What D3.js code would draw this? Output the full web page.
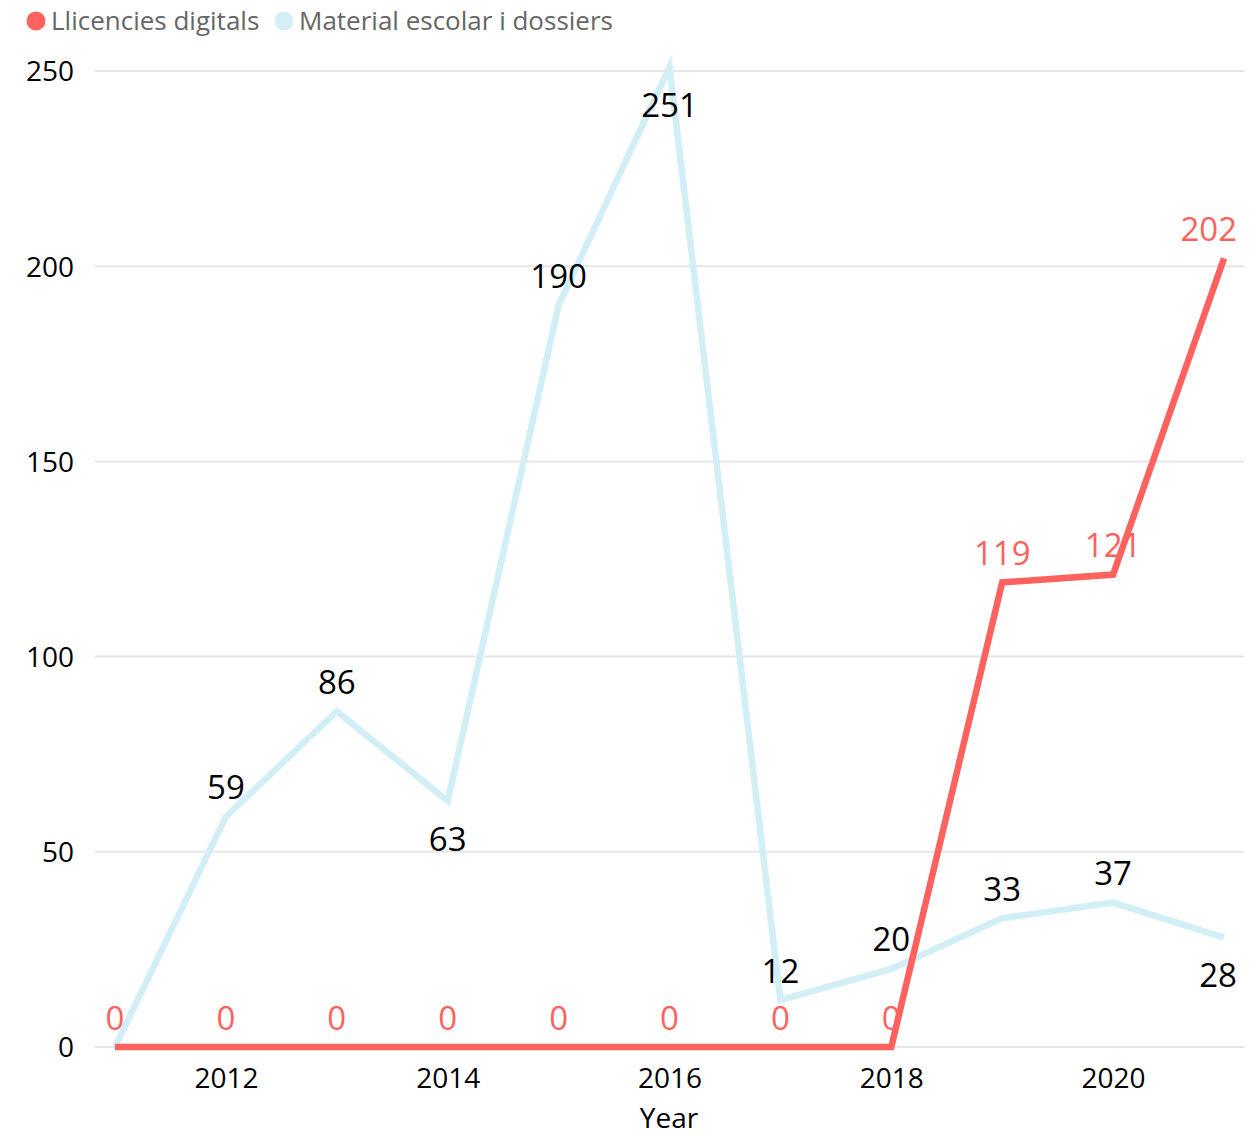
<!DOCTYPE html>
<html><head><meta charset="utf-8">
<script src="https://cdn.jsdelivr.net/npm/d3@7"></script>
<style>body{margin:0;background:#fff}svg text{font-family:"Segoe UI","Open Sans",sans-serif}</style>
</head><body>
<svg id="c" width="1260" height="1136"></svg>
<script>
const years = [2011,2012,2013,2014,2015,2016,2017,2018,2019,2020,2021];
const llicencies = [0,0,0,0,0,0,0,0,119,121,202];
const material = [0,59,86,63,190,251,12,20,33,37,28];
const materialLabelPos = ["none","above","above","below","above","below","above","above","above","above","below"];
const llicenciesLabelPos = ["above","above","above","above","above","above","above","above","above","above","above"];
const yTicks = [0,50,100,150,200,250];
const xTicks = [2012,2014,2016,2018,2020];
const seriesNames = ["Llicencies digitals","Material escolar i dossiers"];
const colors = ["#FD625E","#D2EEF7"];

const svg = d3.select("#c");
const x = d3.scaleLinear().domain([2011,2021]).range([115,1224]);
const y = d3.scaleLinear().domain([0,250]).range([1047,71]);

// gridlines
svg.append("g").selectAll("line").data(yTicks).join("line")
  .attr("x1",95).attr("x2",1244).attr("y1",d=>y(d)).attr("y2",d=>y(d))
  .attr("stroke","#e6e6e6").attr("stroke-width",2);

// y axis labels
const ya = svg.append("g").attr("transform","translate(74,0)")
  .call(d3.axisLeft(y).tickValues(yTicks).tickSize(0).tickPadding(0));
ya.select(".domain").remove();
ya.selectAll("text").attr("font-size",28).attr("fill","#000").attr("font-family",null).attr("dy","0.35em");

// x axis labels
const xa = svg.append("g").attr("transform","translate(0,1088)")
  .call(d3.axisBottom(x).tickValues(xTicks).tickFormat(d3.format("d")).tickSize(0).tickPadding(0));
xa.select(".domain").remove();
xa.selectAll("text").attr("font-size",28).attr("fill","#000").attr("font-family",null).attr("dy","0");

svg.append("text").attr("x",669).attr("y",1128).attr("text-anchor","middle")
  .attr("font-size",28).attr("fill","#000").text("Year");

const line = d3.line().x((d,i)=>x(years[i])).y(d=>y(d));
svg.append("path").datum(material).attr("d",line).attr("fill","none")
  .attr("stroke",colors[1]).attr("stroke-width",6.5).attr("stroke-linejoin","miter");
svg.append("path").datum(llicencies).attr("d",line).attr("fill","none")
  .attr("stroke",colors[0]).attr("stroke-width",6.5).attr("stroke-linejoin","miter");

function labels(vals,pos,fill){
  svg.append("g").selectAll("text").data(vals.map((v,i)=>({v,i,p:pos[i]})).filter(d=>d.p!=="none"))
    .join("text")
    .attr("x",d=>x(years[d.i])).attr("y",d=>y(d.v)+(d.p==="above"?-29:38))
    .attr("dy","0.35em").attr("text-anchor","middle").attr("font-size",33).attr("fill",fill)
    .text(d=>d.v)
    .each(function(){
      const w = this.getComputedTextLength();
      const cx = +this.getAttribute("x");
      if (cx + w/2 > 1237) this.setAttribute("x", 1237 - w/2);
    });
}
labels(material,materialLabelPos,"#000");
labels(llicencies,llicenciesLabelPos,colors[0]);

// legend
const lg = svg.append("g");
const legendX = [36,284];
seriesNames.forEach((n,i)=>{
  lg.append("circle").attr("cx",legendX[i]).attr("cy",21).attr("r",9.5).attr("fill",colors[i]);
  lg.append("text").attr("x",legendX[i]+15).attr("y",21).attr("dy","0.35em")
    .attr("font-size",26).attr("fill","#666").text(n);
});
</script>
</body></html>
